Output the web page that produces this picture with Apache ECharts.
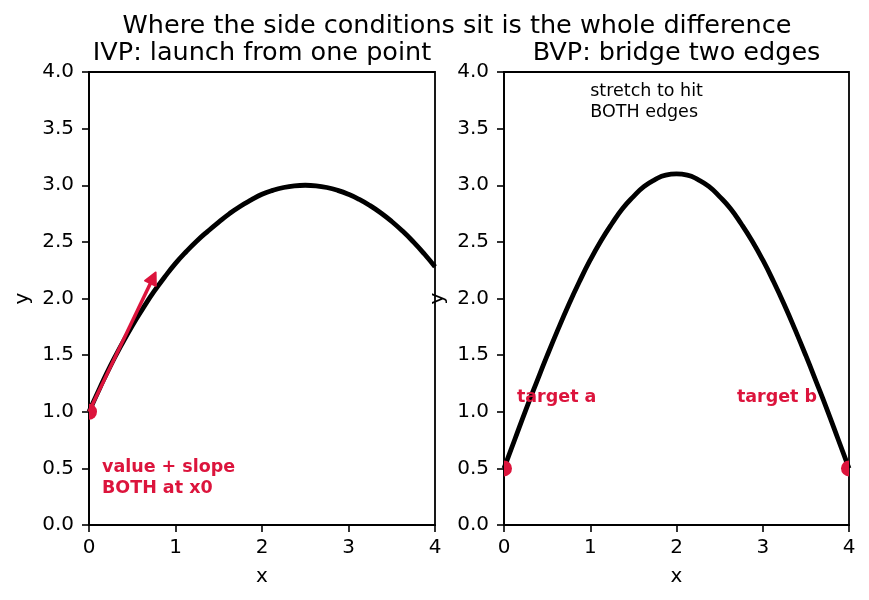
<!DOCTYPE html>
<html>
<head>
<meta charset="utf-8">
<script src="https://cdn.jsdelivr.net/npm/echarts@6/dist/echarts.min.js"></script>
<style>
  html, body { margin: 0; padding: 0; background: #fff; }
  #main { width: 869px; height: 600px; }
</style>
</head>
<body>
<div id="main"></div>
<script>
// x samples shared by both panels
var xs = [0, 0.125, 0.25, 0.375, 0.5, 0.625, 0.75, 0.875, 1, 1.125, 1.25, 1.375, 1.5, 1.625, 1.75, 1.875,
          2, 2.125, 2.25, 2.375, 2.5, 2.625, 2.75, 2.875, 3, 3.125, 3.25, 3.375, 3.5, 3.625, 3.75, 3.875, 4];
// IVP curve (left)
var ivpY = [1.00, 1.21, 1.41, 1.59, 1.76, 1.915, 2.06, 2.19, 2.31, 2.415, 2.51, 2.595, 2.675, 2.75, 2.815, 2.87,
            2.92, 2.955, 2.98, 2.995, 3.00, 2.995, 2.98, 2.955, 2.92, 2.875, 2.82, 2.755, 2.68, 2.595, 2.50, 2.395, 2.28];
// BVP curve (right)
var bvpY = [0.50, 0.755, 1.01, 1.255, 1.495, 1.725, 1.945, 2.15, 2.34, 2.51, 2.66, 2.795, 2.90, 2.99, 3.05, 3.09,
            3.10, 3.09, 3.05, 2.99, 2.90, 2.795, 2.66, 2.51, 2.34, 2.15, 1.945, 1.725, 1.495, 1.255, 1.01, 0.755, 0.50];

var ivpDots = [[0, 1]];
var bvpDots = [[0, 0.5], [4, 0.5]];
// initial slope arrow: start x, start y, end x, end y
var ivpArrow = [[0, 1, 0.77, 2.23]];

var xTicks = [0, 1, 2, 3, 4];
var yTicks = [0, 0.5, 1, 1.5, 2, 2.5, 3, 3.5, 4];

// text notes, anchored at top-left
var ivpNotes = [[0.15, 0.6, 'value + slope\nBOTH at x0', 'bold', '#dc143c']];
var bvpNotes = [
    [0.15, 1.22, 'target a', 'bold', '#dc143c'],
    [2.70, 1.22, 'target b', 'bold', '#dc143c'],
    [1.0, 3.92, 'stretch to hit\nBOTH edges', 'normal', '#000']
];

var CRIMSON = '#dc143c';
var FONT = 'DejaVu Sans';

function zip(a, b) {
    var out = [];
    for (var i = 0; i < a.length; i++) out.push([a[i], b[i]]);
    return out;
}

function xAxisFor(i) {
    return {
        gridIndex: i, type: 'value', min: xTicks[0], max: xTicks[xTicks.length - 1], interval: 1,
        name: 'x', nameLocation: 'middle', nameGap: 42,
        nameTextStyle: {color: '#000', fontSize: 20, fontFamily: FONT},
        axisLine: {show: true, lineStyle: {color: '#000', width: 1.8}},
        axisTick: {show: true, length: 7, lineStyle: {color: '#000', width: 1.6}},
        axisLabel: {color: '#000', fontSize: 20, margin: 13, fontFamily: FONT, showMinLabel: true, showMaxLabel: true},
        splitLine: {show: false}
    };
}

function yAxisFor(i) {
    return {
        gridIndex: i, type: 'value', min: yTicks[0], max: yTicks[yTicks.length - 1], interval: 0.5,
        name: 'y', nameLocation: 'middle', nameGap: 56,
        nameTextStyle: {color: '#000', fontSize: 20, fontFamily: FONT},
        axisLine: {show: true, lineStyle: {color: '#000', width: 1.8}},
        axisTick: {show: true, length: 7, lineStyle: {color: '#000', width: 1.6}},
        axisLabel: {
            color: '#000', fontSize: 20, margin: 15, fontFamily: FONT,
            showMinLabel: true, showMaxLabel: true,
            formatter: function (v) { return v.toFixed(1); }
        },
        splitLine: {show: false}
    };
}

function dotSeries(i, dots) {
    return {
        type: 'custom', xAxisIndex: i, yAxisIndex: i, clip: true, z: 5,
        data: dots,
        renderItem: function (params, api) {
            var p = api.coord([api.value(0), api.value(1)]);
            return {type: 'circle', shape: {cx: p[0], cy: p[1], r: 8}, style: {fill: CRIMSON}};
        }
    };
}

function noteSeries(i, notes) {
    return {
        type: 'custom', xAxisIndex: i, yAxisIndex: i, z: 6,
        data: notes,
        renderItem: function (params, api) {
            var n = notes[params.dataIndex];
            var p = api.coord([n[0], n[1]]);
            return {
                type: 'text', x: p[0], y: p[1],
                style: {
                    text: n[2], fill: n[4], fontSize: 17.5, fontWeight: n[3], fontFamily: FONT,
                    lineHeight: 21, align: 'left', verticalAlign: 'top'
                }
            };
        }
    };
}

var chart = echarts.init(document.getElementById('main'));

var titleStyle = {fill: '#000', fontSize: 25.5, fontFamily: FONT, align: 'center', verticalAlign: 'middle'};

var option = {
    animation: false,
    backgroundColor: '#fff',
    textStyle: {fontFamily: FONT},
    graphic: [
        {type: 'text', x: 457, y: 26, style: Object.assign({text: 'Where the side conditions sit is the whole difference'}, titleStyle)},
        {type: 'text', x: 262, y: 53, style: Object.assign({text: 'IVP: launch from one point'}, titleStyle)},
        {type: 'text', x: 676.5, y: 53, style: Object.assign({text: 'BVP: bridge two edges'}, titleStyle)}
    ],
    grid: [
        {left: 89, top: 72, width: 346, height: 453, show: true, borderColor: '#000', borderWidth: 1.8, backgroundColor: 'transparent'},
        {left: 504, top: 72, width: 345, height: 453, show: true, borderColor: '#000', borderWidth: 1.8, backgroundColor: 'transparent'}
    ],
    xAxis: [xAxisFor(0), xAxisFor(1)],
    yAxis: [yAxisFor(0), yAxisFor(1)],
    series: [
        {
            type: 'line', xAxisIndex: 0, yAxisIndex: 0, data: zip(xs, ivpY),
            showSymbol: false, smooth: 0.5, z: 2,
            lineStyle: {color: '#000', width: 4.8}
        },
        {
            type: 'custom', xAxisIndex: 0, yAxisIndex: 0, z: 4,
            data: ivpArrow,
            renderItem: function (params, api) {
                var a = api.coord([api.value(0), api.value(1)]);
                var b = api.coord([api.value(2), api.value(3)]);
                var dx = b[0] - a[0], dy = b[1] - a[1];
                var len = Math.sqrt(dx * dx + dy * dy);
                var ux = dx / len, uy = dy / len;
                var hl = 12, hw = 6;
                var bx = b[0] - ux * hl, by = b[1] - uy * hl;
                return {
                    type: 'group',
                    children: [
                        {type: 'line', shape: {x1: a[0], y1: a[1], x2: bx + ux * 2, y2: by + uy * 2}, style: {stroke: CRIMSON, lineWidth: 3.5}},
                        {type: 'polygon', shape: {points: [[b[0], b[1]], [bx - uy * hw, by + ux * hw], [bx + uy * hw, by - ux * hw]]}, style: {fill: CRIMSON, stroke: CRIMSON, lineWidth: 2, lineJoin: 'round'}}
                    ]
                };
            }
        },
        dotSeries(0, ivpDots),
        noteSeries(0, ivpNotes),
        {
            type: 'line', xAxisIndex: 1, yAxisIndex: 1, data: zip(xs, bvpY),
            showSymbol: false, smooth: 0.5, z: 2,
            lineStyle: {color: '#000', width: 4.8}
        },
        dotSeries(1, bvpDots),
        noteSeries(1, bvpNotes)
    ]
};

chart.setOption(option);
</script>
</body>
</html>
